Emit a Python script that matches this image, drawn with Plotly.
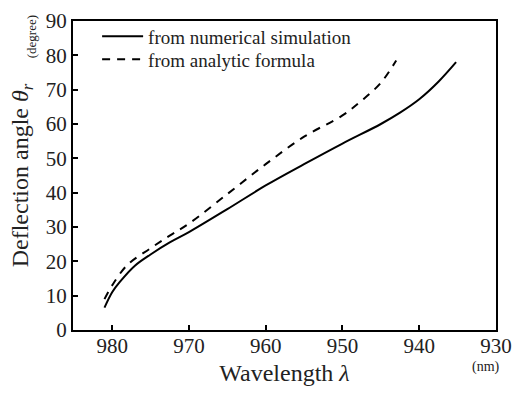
import plotly.graph_objects as go

# Data
wl_sim = [981.0, 980.0, 979.0, 977.0, 975.0, 972.5, 970.0, 965.0, 960.0, 955.0,
          950.0, 945.0, 942.5, 940.0, 937.5, 935.2]
theta_sim = [6.5, 11.0, 14.0, 18.8, 22.0, 25.5, 28.5, 35.2, 42.1, 48.3,
             54.3, 60.0, 63.3, 67.2, 72.3, 78.0]

wl_ana = [981.0, 980.0, 978.0, 975.0, 972.5, 970.0, 965.0, 960.0, 955.0, 950.0,
          947.5, 945.0, 943.0]
theta_ana = [9.0, 13.0, 19.0, 23.8, 27.5, 31.0, 39.6, 48.3, 56.3, 62.5,
             66.8, 72.0, 78.5]

x_ticks = [980, 970, 960, 950, 940, 930]
y_ticks = [0, 10, 20, 30, 40, 50, 60, 70, 80, 90]

FONT = "Liberation Serif, Times New Roman, serif"

fig = go.Figure()
fig.add_trace(go.Scatter(x=wl_sim, y=theta_sim, mode="lines",
                         name="from numerical simulation", legend="legend",
                         line=dict(color="black", width=2, shape="spline")))
fig.add_trace(go.Scatter(x=wl_ana, y=theta_ana, mode="lines",
                         name="from analytic formula", legend="legend2",
                         line=dict(color="black", width=2, dash="8px,7px", shape="spline")))

leg_common = dict(xanchor="left", yanchor="middle", bgcolor="rgba(0,0,0,0)",
                  font=dict(size=19, family=FONT, color="#222"), itemwidth=41)

fig.update_layout(
    width=521, height=394,
    margin=dict(l=73, r=16, t=9, b=64),
    paper_bgcolor="white", plot_bgcolor="white",
    font=dict(family=FONT, color="#222", size=20),
    showlegend=True,
    legend=dict(x=0.057, y=(330 - 25) / 321, **leg_common),
    legend2=dict(x=0.057, y=(330 - 49) / 321, **leg_common),
    xaxis=dict(range=[985.1, 930], tickvals=x_ticks, ticks="inside", ticklen=5,
               tickwidth=1.5, tickcolor="black", ticklabeloverflow="allow",
               ticklabelstandoff=-4,
               showline=True, linecolor="black", linewidth=2, mirror=True,
               showgrid=False, zeroline=False,
               tickfont=dict(size=21, family=FONT),
               title=dict(text="Wavelength <i>λ</i>", font=dict(size=24, family=FONT),
                          standoff=7)),
    yaxis=dict(range=[0, 90], tickvals=y_ticks, ticks="inside", ticklen=5,
               tickwidth=1.5, tickcolor="black", ticklabeloverflow="allow",
               showline=True, linecolor="black", linewidth=2, mirror=True,
               showgrid=False, zeroline=False,
               tickfont=dict(size=21, family=FONT),
               title=dict(text="Deflection angle <i>θ<sub>r</sub></i>",
                          font=dict(size=24, family=FONT), standoff=10)),
)

fig.add_annotation(text="(nm)", xref="paper", yref="paper",
                   x=(495 - 73) / 432, y=(330 - 368) / 321,
                   xanchor="center", yanchor="middle",
                   showarrow=False, font=dict(size=14, family=FONT))
fig.add_annotation(text="(degree)", xref="paper", yref="paper",
                   x=(31 - 73) / 432, y=(330 - 25) / 321, textangle=-90,
                   xanchor="center", yanchor="middle",
                   showarrow=False, font=dict(size=13, family=FONT))

fig.write_html("out.html")
